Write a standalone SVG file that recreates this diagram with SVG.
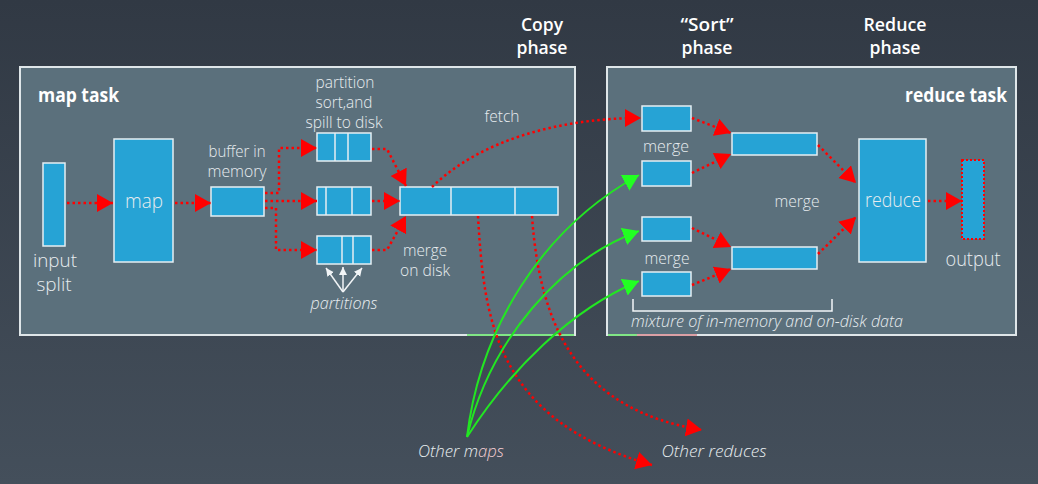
<svg xmlns="http://www.w3.org/2000/svg" width="1038" height="484" viewBox="0 0 1038 484">
<style>
.t{font-family:"Open Sans","Liberation Sans",sans-serif;font-weight:300;fill:#e8edf0;text-anchor:middle}
.h{font-family:"Open Sans","Liberation Sans",sans-serif;fill:#ffffff;font-weight:600;font-size:18px;text-anchor:middle}
.b{font-family:"Open Sans","Liberation Sans",sans-serif;fill:#ffffff;font-weight:700;font-size:19px}
.i{font-style:italic}
.panel{fill:#5b707c;stroke:#dfe6e9;stroke-width:2}
.box{fill:#26a3d5;stroke:#e6eef2;stroke-width:1.5}
.div{stroke:#e6eef2;stroke-width:1.5}
.red{fill:none;stroke:#ff0000;stroke-width:2.5;stroke-dasharray:2.5 3}
.grn{fill:none;stroke:#22e622;stroke-width:2}
.wht{fill:none;stroke:#f2f5f7;stroke-width:1.5}
</style>
<defs>
<linearGradient id="bg" x1="0" y1="0" x2="0" y2="1">
<stop offset="0" stop-color="#313944"/>
<stop offset="1" stop-color="#444f5b"/>
</linearGradient>
<marker id="ar" markerUnits="userSpaceOnUse" markerWidth="17" markerHeight="19" refX="16" refY="9" orient="auto" viewBox="0 0 17 19">
<path d="M0,0 L16,9 L0,18 z" fill="#ff0000"/>
</marker>
<marker id="ag" markerUnits="userSpaceOnUse" markerWidth="17" markerHeight="19" refX="16" refY="9" orient="auto" viewBox="0 0 17 19">
<path d="M0,0 L16,9 L0,18 z" fill="#22ff22"/>
</marker>
<marker id="aw" markerUnits="userSpaceOnUse" markerWidth="9" markerHeight="9" refX="8" refY="4" orient="auto" viewBox="0 0 9 9">
<path d="M0,0 L8,4 L0,8 z" fill="#f2f5f7"/>
</marker>
</defs>
<rect x="0" y="0" width="1038" height="484" fill="url(#bg)"/>

<g id="phase-labels">
<text class="h" x="542" y="31" textLength="42" lengthAdjust="spacingAndGlyphs">Copy</text>
<text class="h" x="542" y="54" textLength="51" lengthAdjust="spacingAndGlyphs">phase</text>
<text class="h" x="707" y="31" textLength="53" lengthAdjust="spacingAndGlyphs">“Sort”</text>
<text class="h" x="707" y="54" textLength="51" lengthAdjust="spacingAndGlyphs">phase</text>
<text class="h" x="895" y="31" textLength="63" lengthAdjust="spacingAndGlyphs">Reduce</text>
<text class="h" x="895" y="54" textLength="51" lengthAdjust="spacingAndGlyphs">phase</text>
</g>

<g id="map-task">
<rect class="panel" x="20" y="67" width="555" height="268"/>
<text class="b" x="38" y="102" textLength="81" lengthAdjust="spacingAndGlyphs">map task</text>
</g>
<g id="reduce-task">
<rect class="panel" x="607" y="67" width="409" height="268"/>
<text class="b" x="1007" y="102" text-anchor="end" textLength="102" lengthAdjust="spacingAndGlyphs">reduce task</text>
</g>
<g id="panel-edge-marks">
<line x1="467" y1="335" x2="574" y2="335" stroke="#22e622" stroke-width="1"/>
<line x1="608" y1="335" x2="637" y2="335" stroke="#22e622" stroke-width="1"/>
<line x1="637" y1="335" x2="697" y2="335" stroke="#d85a62" stroke-width="1"/>
</g>

<g id="input-split">
<rect class="box" x="43" y="163" width="22" height="83"/>
<text class="t" x="55" y="267" font-size="18" textLength="44" lengthAdjust="spacingAndGlyphs">input</text>
<text class="t" x="54" y="291" font-size="18" textLength="35" lengthAdjust="spacingAndGlyphs">split</text>
</g>
<g id="map">
<rect class="box" x="114" y="139" width="59" height="123"/>
<text class="t" x="144" y="208" font-size="20" textLength="38" lengthAdjust="spacingAndGlyphs">map</text>
</g>
<g id="buffer">
<text class="t" x="237" y="157" font-size="16" textLength="57" lengthAdjust="spacingAndGlyphs">buffer in</text>
<text class="t" x="237" y="177" font-size="16" textLength="59" lengthAdjust="spacingAndGlyphs">memory</text>
<rect class="box" x="211" y="187" width="53" height="29"/>
</g>
<g id="spills">
<text class="t" x="345" y="88" font-size="16" textLength="59" lengthAdjust="spacingAndGlyphs">partition</text>
<text class="t" x="344" y="108" font-size="16" textLength="57" lengthAdjust="spacingAndGlyphs">sort,and</text>
<text class="t" x="344" y="128" font-size="16" textLength="77" lengthAdjust="spacingAndGlyphs">spill to disk</text>
</g>
<g id="spill-1">
<rect class="box" x="317" y="133" width="54" height="28"/>
<line class="div" x1="335" y1="133" x2="335" y2="161"/>
<line class="div" x1="348" y1="133" x2="348" y2="161"/>
</g>
<g id="spill-2">
<rect class="box" x="317" y="187" width="54" height="28"/>
<line class="div" x1="326" y1="187" x2="326" y2="215"/>
<line class="div" x1="352" y1="187" x2="352" y2="215"/>
</g>
<g id="spill-3">
<rect class="box" x="317" y="236" width="54" height="28"/>
<line class="div" x1="342" y1="236" x2="342" y2="264"/>
<line class="div" x1="353" y1="236" x2="353" y2="264"/>
</g>
<g id="partitions-label">
<text class="t i" x="344" y="309" font-size="17" textLength="67" lengthAdjust="spacingAndGlyphs">partitions</text>
</g>
<g id="merged-file">
<rect class="box" x="400" y="187" width="158" height="28"/>
<line class="div" x1="451" y1="187" x2="451" y2="215"/>
<line class="div" x1="515" y1="187" x2="515" y2="215"/>
<text class="t" x="425" y="256" font-size="16" textLength="44" lengthAdjust="spacingAndGlyphs">merge</text>
<text class="t" x="425" y="276" font-size="16" textLength="50" lengthAdjust="spacingAndGlyphs">on disk</text>
</g>
<g id="fetch-label">
<text class="t" x="502" y="122" font-size="17" textLength="35" lengthAdjust="spacingAndGlyphs">fetch</text>
</g>

<g id="merge-1"><rect class="box" x="642" y="106" width="49" height="25"/></g>
<g id="merge-2"><rect class="box" x="642" y="161" width="49" height="25"/></g>
<g id="merge-3"><rect class="box" x="642" y="217" width="49" height="24"/></g>
<g id="merge-4"><rect class="box" x="642" y="272" width="49" height="24"/></g>
<g id="merge-labels">
<text class="t" x="666" y="152" font-size="17" textLength="46" lengthAdjust="spacingAndGlyphs">merge</text>
<text class="t" x="667" y="264" font-size="17" textLength="45" lengthAdjust="spacingAndGlyphs">merge</text>
<text class="t" x="797" y="207" font-size="17" textLength="45" lengthAdjust="spacingAndGlyphs">merge</text>
</g>
<g id="merge-a"><rect class="box" x="732" y="133" width="85" height="22"/></g>
<g id="merge-b"><rect class="box" x="732" y="247" width="85" height="22"/></g>
<g id="reduce">
<rect class="box" x="859" y="139" width="67" height="123"/>
<text class="t" x="893" y="207" font-size="20" textLength="56" lengthAdjust="spacingAndGlyphs">reduce</text>
</g>
<g id="output">
<rect x="962" y="160" width="22" height="79" fill="#26a3d5" stroke="#ff0000" stroke-width="2" stroke-dasharray="2 2"/>
<text class="t" x="973" y="266" font-size="20" textLength="55" lengthAdjust="spacingAndGlyphs">output</text>
</g>
<g id="mixture">
<path class="wht" d="M633,299 L633,311 L832,311 L832,299"/>
<text class="t i" x="767" y="327" font-size="16" textLength="272" lengthAdjust="spacingAndGlyphs">mixture of in-memory and on-disk data</text>
</g>
<g id="other-maps">
<text class="t i" x="461" y="457" font-size="17" textLength="86" lengthAdjust="spacingAndGlyphs">Other m<tspan fill="#f3cdd3">aps</tspan></text>
</g>
<g id="other-reduces">
<text class="t i" x="714" y="457" font-size="17" textLength="105" lengthAdjust="spacingAndGlyphs">Other reduces</text>
</g>

<g id="connectors">
<path class="red" d="M67,203 L113,203" marker-end="url(#ar)"/>
<path class="red" d="M175,203 L211,203" marker-end="url(#ar)"/>
<path class="red" d="M265,193 L279,193 L279,148 L317,148" marker-end="url(#ar)"/>
<path class="red" d="M265,201 L317,201" marker-end="url(#ar)"/>
<path class="red" d="M265,208 L276,208 L276,250 L317,250" marker-end="url(#ar)"/>
<path class="red" d="M372,149 L387,149 L406,186" marker-end="url(#ar)"/>
<path class="red" d="M372,201 L400,201" marker-end="url(#ar)"/>
<path class="red" d="M372,250 L387,250 L406,216" marker-end="url(#ar)"/>
<path class="red" d="M432,187 C480,140 560,118 641,118" marker-end="url(#ar)"/>
<path class="red" d="M478,216 C484,320 495,420 652,465" marker-end="url(#ar)"/>
<path class="red" d="M532,216 C540,330 580,410 702,430" marker-end="url(#ar)"/>
<path class="red" d="M692,118 L731,133" marker-end="url(#ar)"/>
<path class="red" d="M692,173 L731,154" marker-end="url(#ar)"/>
<path class="red" d="M692,228 L731,247" marker-end="url(#ar)"/>
<path class="red" d="M692,285 L731,269" marker-end="url(#ar)"/>
<path class="red" d="M818,145 L856,183" marker-end="url(#ar)"/>
<path class="red" d="M818,254 L856,217" marker-end="url(#ar)"/>
<path class="red" d="M928,201 L962,201" marker-end="url(#ar)"/>
<path class="grn" d="M467,437 C480,330 540,230 639,175" marker-end="url(#ag)"/>
<path class="grn" d="M467,437 C490,340 560,260 639,231" marker-end="url(#ag)"/>
<path class="grn" d="M467,437 C510,370 570,310 639,281" marker-end="url(#ag)"/>
<path class="wht" d="M343,292 L326,268" marker-end="url(#aw)"/>
<path class="wht" d="M343,292 L343,267" marker-end="url(#aw)"/>
<path class="wht" d="M343,292 L362,268" marker-end="url(#aw)"/>
</g>
</svg>
